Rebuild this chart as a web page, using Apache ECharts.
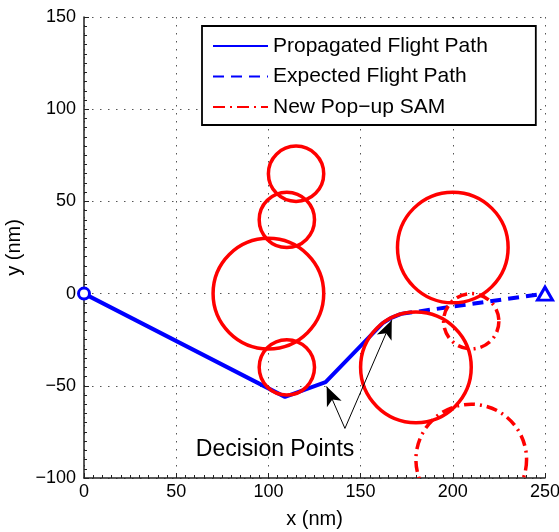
<!DOCTYPE html>
<html>
<head>
<meta charset="utf-8">
<script src="https://cdn.jsdelivr.net/npm/echarts@6/dist/echarts.min.js"></script>
<style>
  html, body { margin: 0; padding: 0; background: #fff; }
  #chart { width: 559px; height: 532px; }
</style>
</head>
<body>
<div id="chart"></div>
<script>
// Flight path that has been flown (solid) and the remaining planned leg (dashed)
const propagatedX = [0, 109, 131, 162, 167, 172];
const propagatedY = [0, -56, -48, -16, -13, -11];
const expectedX = [172, 250];
const expectedY = [-11, 0];

// Known SAM sites: centre x, centre y, threat radius (nm)
const samX = [115, 110, 100, 110, 200, 180];
const samY = [65, 40, 0, -40, 25, -40];
const samR = [15, 15, 30, 15, 30, 30];

// SAM sites that popped up during the flight
const popupX = [210, 210];
const popupY = [-15, -90];
const popupR = [15, 30];

// Start and goal
const startPoint = [0, 0];
const goalPoint = [250, 0];

// Annotation for the two decision points
const noteText = 'Decision Points';
const notePos = [103.6, -84.5];
const arrowTail = [141.5, -73.1];
const arrowTips = [[131.6, -50.4], [166.9, -14.4]];

// Axis ranges
const xRange = [0, 250];
const yRange = [-100, 150];
const tickStep = 50;

const FONT = 'Liberation Sans';
const zip = (xs, ys) => xs.map((x, i) => [x, ys[i]]);
const circles = (xs, ys, rs) => xs.map((x, i) => [x, ys[i], rs[i]]);
const minusSign = v => String(v).replace('-', '\u2212');

function circleRenderer(stroke, dash) {
  return function (params, api) {
    const c = api.coord([api.value(0), api.value(1)]);
    const r = api.size([api.value(2), 0])[0];
    const cs = params.coordSys;
    return {
      type: 'circle',
      shape: { cx: c[0], cy: c[1], r: r },
      style: { fill: null, stroke: stroke, lineWidth: 3.5, lineDash: dash },
      clipPath: { type: 'rect', shape: { x: cs.x, y: cs.y, width: cs.width, height: cs.height } }
    };
  };
}

const axisCommon = {
  type: 'value',
  interval: tickStep,
  axisLine: { show: true, onZero: false, lineStyle: { color: '#222', width: 1.5 } },
  axisTick: { show: true, inside: true, length: 5, lineStyle: { color: '#222' } },
  minorTick: { show: true, splitNumber: 10, length: 3, lineStyle: { color: '#222' } },
  splitLine: { show: true, lineStyle: { color: '#555', width: 1, type: [1.5, 6.5] } },
  axisLabel: { color: '#000', fontSize: 18, fontFamily: FONT, formatter: minusSign },
  nameLocation: 'middle',
  nameTextStyle: { color: '#000', fontSize: 20, fontFamily: FONT }
};

const chart = echarts.init(document.getElementById('chart'), null, { renderer: 'canvas' });
chart.setOption({
  animation: false,
  backgroundColor: '#fff',
  grid: { left: 84, right: 14, top: 17, bottom: 54, outerBoundsMode: 'none' },
  xAxis: Object.assign({}, axisCommon, {
    min: xRange[0], max: xRange[1], name: 'x (nm)', nameGap: 31,
    axisLabel: Object.assign({}, axisCommon.axisLabel, { margin: 5 })
  }),
  yAxis: Object.assign({}, axisCommon, {
    min: yRange[0], max: yRange[1], name: 'y (nm)', nameGap: 51,
    axisLabel: Object.assign({}, axisCommon.axisLabel, { margin: 8 })
  }),
  legend: {
    orient: 'vertical',
    left: 202, top: 26,
    itemWidth: 55, itemHeight: 14, itemGap: 9.5,
    padding: [9.5, 48, 7.5, 10],
    backgroundColor: '#fff', borderColor: '#000', borderWidth: 1.8, borderRadius: 0,
    textStyle: { color: '#000', fontSize: 21, fontFamily: FONT },
    itemStyle: { opacity: 0 },
    selectedMode: false,
    data: ['Propagated Flight Path', 'Expected Flight Path', 'New Pop\u2212up SAM']
  },
  series: [
    {
      name: 'Propagated Flight Path', type: 'line', data: zip(propagatedX, propagatedY),
      symbol: 'none', lineStyle: { color: '#0000ff', width: 4 }, itemStyle: { color: '#0000ff' }, z: 2
    },
    {
      name: 'Expected Flight Path', type: 'line', data: zip(expectedX, expectedY),
      symbol: 'none', lineStyle: { color: '#0000ff', width: 4, type: [11, 7] }, itemStyle: { color: '#0000ff' }, z: 2
    },
    {
      name: 'New Pop\u2212up SAM', type: 'line', data: [],
      symbol: 'none', lineStyle: { color: '#ff0000', width: 3.5, type: [12, 5, 2, 5] }, itemStyle: { color: '#ff0000' }
    },
    {
      name: 'SAM', type: 'custom', data: circles(samX, samY, samR),
      renderItem: circleRenderer('#ff0000', null), z: 3, silent: true
    },
    {
      name: 'New Pop\u2212up SAM', type: 'custom', data: circles(popupX, popupY, popupR),
      renderItem: circleRenderer('#ff0000', [11, 5, 2, 5]), z: 3, silent: true
    },
    {
      name: 'Start', type: 'scatter', data: [startPoint], symbol: 'circle', symbolSize: 11,
      itemStyle: { color: '#fff', borderColor: '#0000ff', borderWidth: 3, opacity: 1 }, z: 5, silent: true
    },
    {
      name: 'Goal', type: 'scatter', data: [goalPoint], symbol: 'triangle', symbolSize: [15, 13],
      itemStyle: { color: '#fff', borderColor: '#0000ff', borderWidth: 3, opacity: 1 }, z: 5, silent: true
    },
    {
      name: 'Decision', type: 'scatter', data: [notePos], symbolSize: 0, silent: true, z: 6,
      itemStyle: { opacity: 1 },
      label: { show: true, position: 'inside', formatter: noteText, color: '#000', opacity: 1, fontSize: 23, fontFamily: FONT },
      markLine: {
        silent: true, animation: false,
        symbol: ['none', 'arrow'], symbolSize: [12, 19],
        label: { show: false },
        lineStyle: { color: '#000', width: 1, type: 'solid', opacity: 1 },
        itemStyle: { color: '#000' },
        data: arrowTips.map(t => [{ coord: arrowTail }, { coord: t }])
      }
    }
  ]
});
</script>
</body>
</html>
